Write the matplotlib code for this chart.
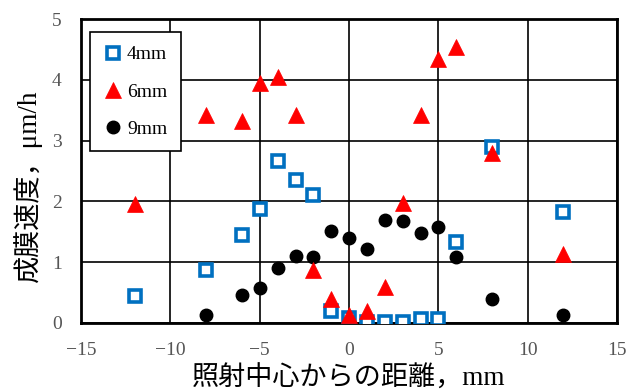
import matplotlib
matplotlib.use("Agg")
import matplotlib.pyplot as plt

# data
x4 = [-12, -8, -6, -5, -4, -3, -2, -1, 0, 1, 2, 3, 4, 5, 6, 8, 12]
y4 = [0.45, 0.87, 1.44, 1.88, 2.66, 2.36, 2.10, 0.20, 0.08, 0.02, 0.02, 0.02, 0.06, 0.07, 1.33, 2.90, 1.83]

x6 = [-12, -8, -6, -5, -4, -3, -2, -1, 0, 1, 2, 3, 4, 5, 6, 8, 12]
y6 = [1.95, 3.43, 3.33, 3.95, 4.05, 3.43, 0.87, 0.40, 0.13, 0.20, 0.59, 1.98, 3.43, 4.35, 4.55, 2.80, 1.13]

x9 = [-8, -6, -5, -4, -3, -2, -1, 0, 1, 2, 3, 4, 5, 6, 8, 12]
y9 = [0.13, 0.46, 0.57, 0.90, 1.10, 1.08, 1.52, 1.40, 1.21, 1.69, 1.68, 1.48, 1.58, 1.09, 0.40, 0.13]

labels = ["4mm", "6mm", "9mm"]
xticks = [-15, -10, -5, 0, 5, 10, 15]
yticks = [0, 1, 2, 3, 4, 5]

serif = "Liberation Serif"
mixed = ["Liberation Serif", "Noto Sans CJK JP"]

fig = plt.figure(figsize=(6.29, 3.91), dpi=100)
ax = fig.add_axes([0.129, 0.174, 0.852, 0.777])

ax.plot(x4, y4, ls="none", marker="s", ms=8, mfc="white", mec="#0070C0", mew=2.6, label=labels[0], zorder=3)
ax.plot(x6, y6, ls="none", marker="^", ms=11, mfc="#FF0000", mec="#FF0000", mew=0.5, label=labels[1], zorder=4)
ax.plot(x9, y9, ls="none", marker="o", ms=9, mfc="black", mec="black", label=labels[2], zorder=3)

ax.set_xlim(-15, 15)
ax.set_ylim(0, 5)
ax.set_xticks(xticks)
ax.set_yticks(yticks)
ax.set_xticklabels(["\u221215", "\u221210", "\u22125", "0", "5", "10", "15"])
ax.grid(True, color="black", lw=1.2)
ax.set_axisbelow(True)
ax.tick_params(length=0, labelsize=14, colors="#555555")
ax.tick_params(axis="x", pad=14)
ax.tick_params(axis="y", pad=14)
for lab in ax.get_xticklabels() + ax.get_yticklabels():
    lab.set_family(serif)
for sp in ax.spines.values():
    sp.set_linewidth(2)

ax.set_xlabel("照射中心からの距離，mm", family=mixed, fontsize=19.5, va="center")
ax.xaxis.set_label_coords(0.5, -0.183)
ax.set_ylabel("成膜速度，μm/h", family=mixed, fontsize=19.5, va="center")
ax.yaxis.set_label_coords(-0.1, 0.452)

leg = ax.legend(loc="upper left", bbox_to_anchor=(0.0168, 0.957), borderaxespad=0, frameon=True,
                fancybox=False, framealpha=1, edgecolor="black", borderpad=0.7, labelspacing=1.0,
                handletextpad=0.2, handlelength=1.0, prop={"family": serif, "size": 14})
leg.get_frame().set_linewidth(1.2)

fig.savefig("out.png", dpi=100)
